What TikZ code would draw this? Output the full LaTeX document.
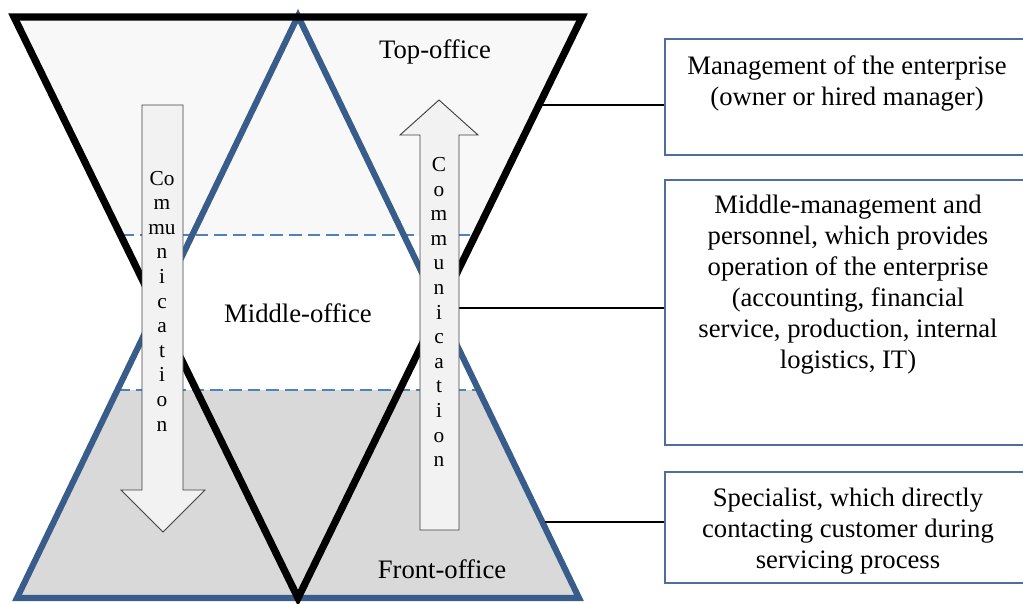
\documentclass[tikz,border=0pt]{standalone}
\usepackage{fontspec}
\setmainfont{Liberation Serif}
\definecolor{topfill}{HTML}{F8F8F8}
\definecolor{botfill}{HTML}{D9D9D9}
\definecolor{triblue}{HTML}{385D8A}
\definecolor{dashblue}{HTML}{4F81BD}
\definecolor{boxblue}{HTML}{4F6E9E}
\definecolor{arrfill}{HTML}{F2F2F2}
\definecolor{arrline}{HTML}{404040}
\begin{document}
\begin{tikzpicture}[x=0.75pt,y=-0.75pt,
  blacktri/.style={draw=black,line width=5.4pt,line join=miter},
  bluetri/.style={draw=triblue,line width=4.6pt,line join=miter},
  levelline/.style={draw=dashblue,line width=1.7pt,dash pattern=on 9.5pt off 4.5pt},
  commarrow/.style={draw=arrline,fill=arrfill,line width=0.7pt,line join=miter},
  atext/.style={inner sep=0pt,align=center,font=\fontsize{16}{18.45}\selectfont},
  office/.style={inner sep=0pt,font=\fontsize{20}{24}\selectfont},
  boxtext/.style={inner sep=0pt,align=center,font=\fontsize{20}{23.25}\selectfont},
  infobox/.style={draw=boxblue,line width=1.1pt},
  link/.style={draw=black,line width=1.2pt}]
\useasboundingbox (0,0) rectangle (1023,603);
% fills
\begin{scope}
  \clip (0,0) rectangle (1023,235);
  \fill[topfill] (14,17) -- (582,17) -- (298,598) -- cycle;
\end{scope}
\begin{scope}
  \clip (0,390) rectangle (1023,603);
  \fill[botfill] (298,16) -- (579,598) -- (17,598) -- cycle;
\end{scope}
% level lines
\draw[levelline] (121,235) -- (476,235);
\draw[levelline] (117,390) -- (479,390);
% triangles
\draw[bluetri] (298,16) -- (579,598) -- (17,598) -- cycle;
\draw[blacktri] (14,17) -- (582,17) -- (298,598) -- cycle;
% connectors anchors
\coordinate (c1s) at (542,105);
\coordinate (c2s) at (459,308);
\coordinate (c3s) at (545,522);
\coordinate (b1w) at (665,105);
\coordinate (b2w) at (665,308);
\coordinate (b3w) at (665,522);
\draw[link] (c1s) -- (b1w);
\draw[link] (c2s) -- (b2w);
\draw[link] (c3s) -- (b3w);
% communication arrows
\draw[commarrow] (142,105) -- (183,105) -- (183,490) -- (205,490) -- (163,532) -- (121,490) -- (142,490) -- cycle;
\draw[commarrow] (420,530) -- (459,530) -- (459,135) -- (478,135) -- (439,100) -- (400,135) -- (420,135) -- cycle;
\node[atext] (downtext) at (162,301) {Co\\m\\mu\\n\\i\\c\\a\\t\\i\\o\\n};
\node[atext] (uptext) at (439,312) {C\\o\\m\\m\\u\\n\\i\\c\\a\\t\\i\\o\\n};
% office labels
\node[office] (topoffice) at (435,52) {Top-office};
\node[office] (middleoffice) at (298,313) {Middle-office};
\node[office] (frontoffice) at (442,569) {Front-office};
% info boxes (open on the right)
\draw[infobox] (1024,39) -- (665,39) -- (665,155) -- (1024,155);
\draw[infobox] (1024,180) -- (665,180) -- (665,445) -- (1024,445);
\draw[infobox] (1024,472) -- (665,472) -- (665,583) -- (1024,583);
\node[boxtext] (box1) at (847,83) {Management of the enterprise\\(owner or hired manager)};
\node[boxtext] (box2) at (848,285) {Middle-management and\\personnel, which provides\\operation of the enterprise\\(accounting, financial\\service, production, internal\\logistics, IT)};
\node[boxtext] (box3) at (848,531) {Specialist, which directly\\contacting customer during\\servicing process};
\end{tikzpicture}
\end{document}
